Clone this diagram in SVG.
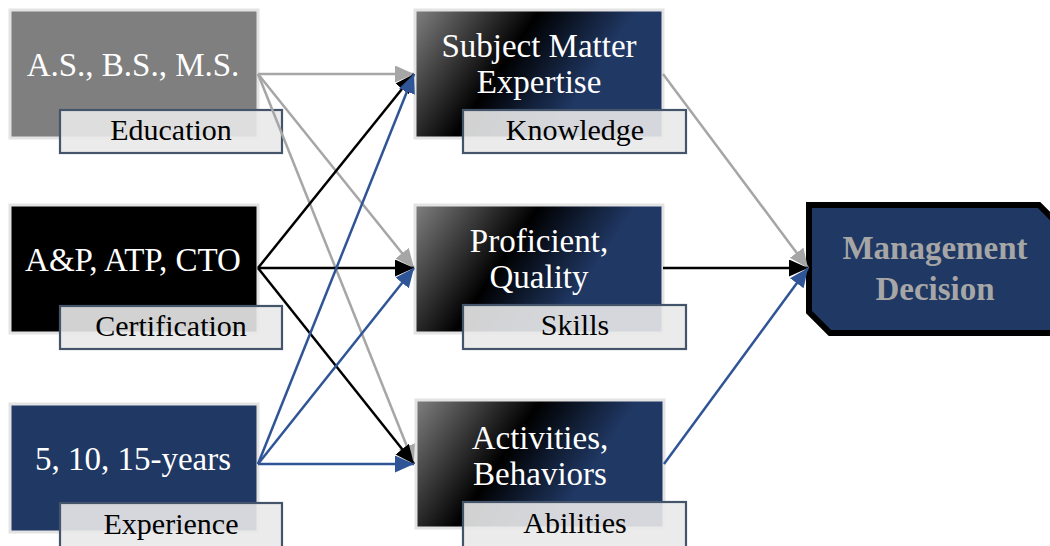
<svg xmlns="http://www.w3.org/2000/svg" width="1050" height="546" viewBox="0 0 1050 546">
<style>
.box{stroke:#e3e3e3;stroke-width:3}
.lbl{fill:#e9e9e9;fill-opacity:0.9;stroke:#44546a;stroke-width:2.2}
.t{font-family:"Liberation Serif","Times New Roman",serif;font-size:33px;fill:#ffffff;text-anchor:middle}
.lt{font-family:"Liberation Serif","Times New Roman",serif;font-size:30px;fill:#000000;text-anchor:middle}
.md{font-family:"Liberation Serif","Times New Roman",serif;font-size:33px;font-weight:bold;fill:#a6a6a6;text-anchor:middle}
.c{fill:none;stroke-width:2.5}
.g{stroke:#a6a6a6}
.k{stroke:#000000}
.b{stroke:#2f5597}
</style>
<defs>
<linearGradient id="grad" x1="0" y1="0" x2="1" y2="0.35">
<stop offset="0" stop-color="#808080"/>
<stop offset="0.45" stop-color="#000000"/>
<stop offset="0.8" stop-color="#203864"/>
<stop offset="1" stop-color="#203864"/>
</linearGradient>
<marker id="ag" markerUnits="userSpaceOnUse" markerWidth="21" markerHeight="19" refX="19" refY="8.5" orient="auto"><path d="M0,0 L19,8.5 L0,17 z" fill="#a6a6a6"/></marker>
<marker id="ak" markerUnits="userSpaceOnUse" markerWidth="21" markerHeight="19" refX="19" refY="8.5" orient="auto"><path d="M0,0 L19,8.5 L0,17 z" fill="#000000"/></marker>
<marker id="ab" markerUnits="userSpaceOnUse" markerWidth="21" markerHeight="19" refX="19" refY="8.5" orient="auto"><path d="M0,0 L19,8.5 L0,17 z" fill="#2f5597"/></marker>
</defs>

<g id="education">
<rect class="box" x="10" y="10" width="248" height="128" fill="#7f7f7f"/>
<text class="t" x="133" y="76">A.S., B.S., M.S.</text>
<rect class="lbl" x="60" y="110" width="222" height="43"/>
<text class="lt" x="171" y="140">Education</text>
</g>
<g id="certification">
<rect class="box" x="10" y="205" width="248" height="128" fill="#000000"/>
<text class="t" x="133" y="271">A&amp;P, ATP, CTO</text>
<rect class="lbl" x="60" y="306" width="222" height="43"/>
<text class="lt" x="171" y="336">Certification</text>
</g>
<g id="experience">
<rect class="box" x="10" y="404" width="248" height="128" fill="#203864"/>
<text class="t" x="133" y="470">5, 10, 15-years</text>
<rect class="lbl" x="60" y="503" width="222" height="45"/>
<text class="lt" x="171" y="534">Experience</text>
</g>

<g id="knowledge">
<rect class="box" x="415" y="10" width="248" height="128" fill="url(#grad)"/>
<text class="t" x="539" y="57">Subject Matter</text>
<text class="t" x="539" y="93">Expertise</text>
<rect class="lbl" x="463" y="110" width="223" height="43"/>
<text class="lt" x="575" y="140">Knowledge</text>
</g>
<g id="skills">
<rect class="box" x="415" y="205" width="248" height="128" fill="url(#grad)"/>
<text class="t" x="539" y="252">Proficient,</text>
<text class="t" x="539" y="288">Quality</text>
<rect class="lbl" x="463" y="305" width="223" height="44"/>
<text class="lt" x="575" y="335">Skills</text>
</g>
<g id="abilities">
<rect class="box" x="416" y="400" width="248" height="128" fill="url(#grad)"/>
<text class="t" x="540" y="449">Activities,</text>
<text class="t" x="540" y="485">Behaviors</text>
<rect class="lbl" x="463" y="502" width="223" height="46"/>
<text class="lt" x="575" y="533">Abilities</text>
</g>

<g id="management-decision">
<path d="M809,205 L1039,205 L1060,226 L1060,333 L830,333 L809,312 Z" fill="#203864" stroke="#000000" stroke-width="6"/>
<text class="md" x="935" y="259">Management</text>
<text class="md" x="935" y="300">Decision</text>
</g>

<g id="connectors">
<line class="c g" x1="258" y1="74" x2="414" y2="74" marker-end="url(#ag)"/>
<line class="c g" x1="258" y1="74" x2="414" y2="268" marker-end="url(#ag)"/>
<line class="c g" x1="258" y1="74" x2="414" y2="464" marker-end="url(#ag)"/>
<line class="c k" x1="258" y1="268" x2="414" y2="74" marker-end="url(#ak)"/>
<line class="c k" x1="258" y1="268" x2="414" y2="268" marker-end="url(#ak)"/>
<line class="c k" x1="258" y1="268" x2="414" y2="464" marker-end="url(#ak)"/>
<line class="c b" x1="258" y1="464" x2="414" y2="74" marker-end="url(#ab)"/>
<line class="c b" x1="258" y1="464" x2="414" y2="268" marker-end="url(#ab)"/>
<line class="c b" x1="258" y1="464" x2="414" y2="464" marker-end="url(#ab)"/>
<line class="c g" x1="663" y1="74" x2="808" y2="268" marker-end="url(#ag)"/>
<line class="c k" x1="663" y1="268" x2="808" y2="268" marker-end="url(#ak)"/>
<line class="c b" x1="664" y1="464" x2="808" y2="268" marker-end="url(#ab)"/>
</g>
</svg>
